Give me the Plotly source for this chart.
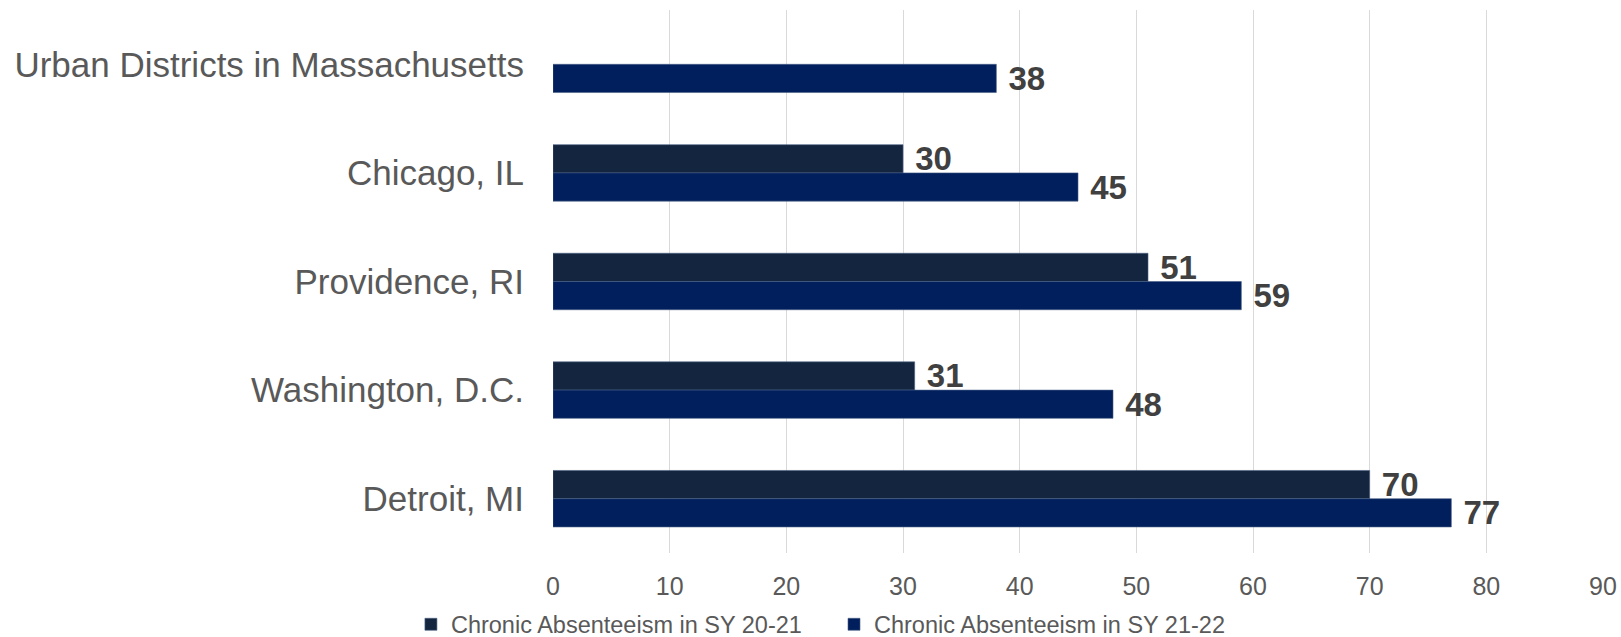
import plotly.graph_objects as go

categories = ["Urban Districts in Massachusetts", "Chicago, IL", "Providence, RI",
              "Washington, D.C.", "Detroit, MI"]
sy2021 = [None, 30, 51, 31, 70]
sy2122 = [38, 45, 59, 48, 77]
series_names = ["Chronic Absenteeism in SY 20-21", "Chronic Absenteeism in SY 21-22"]
colors = ["#14263F", "#001F5C"]
x_ticks = [0, 10, 20, 30, 40, 50, 60, 70, 80, 90]

fig = go.Figure()
for name, vals, col, lg in zip(series_names, [sy2021, sy2122], colors, ["legend", "legend2"]):
    fig.add_trace(go.Bar(
        y=categories, x=vals, name=name, orientation="h", legend=lg,
        marker=dict(color=col, line=dict(color="#4A5F85", width=0.6)),
        texttemplate=" %{x}",
        textposition="outside",
        constraintext="none",
        textfont=dict(family="Liberation Sans, Arial", size=33, color="#404040", weight="bold"),
        cliponaxis=False,
    ))

legend_common = dict(orientation="h", xref="container", xanchor="left",
                     yref="container", y=0.0196, yanchor="middle",
                     bgcolor="rgba(0,0,0,0)",
                     font=dict(size=23.5, color="#595959"), itemwidth=30)

fig.update_layout(
    width=1621, height=637,
    barmode="group", bargap=0.48, bargroupgap=0,
    plot_bgcolor="white", paper_bgcolor="white",
    margin=dict(l=553, r=18, t=10, b=84, autoexpand=False),
    font=dict(family="Liberation Sans, Arial", color="#595959"),
    xaxis=dict(range=[0, 90], tickvals=x_ticks, showgrid=True, gridcolor="#D9D9D9",
               gridwidth=1, zeroline=False, showline=False, automargin=False,
               tickfont=dict(size=25, color="#595959"), ticks="", ticklabelstandoff=16),
    yaxis=dict(autorange="reversed", showgrid=False, showline=False, zeroline=False,
               automargin=False,
               tickfont=dict(size=35, color="#595959"), ticks="", ticklabelstandoff=28),
    legend=dict(x=0.2535, **legend_common),
    legend2=dict(x=0.5145, **legend_common),
    showlegend=True,
)

fig.write_html("out.html", config={"displayModeBar": False},
               post_script="document.body.style.margin='0';document.body.style.overflow='hidden';")
